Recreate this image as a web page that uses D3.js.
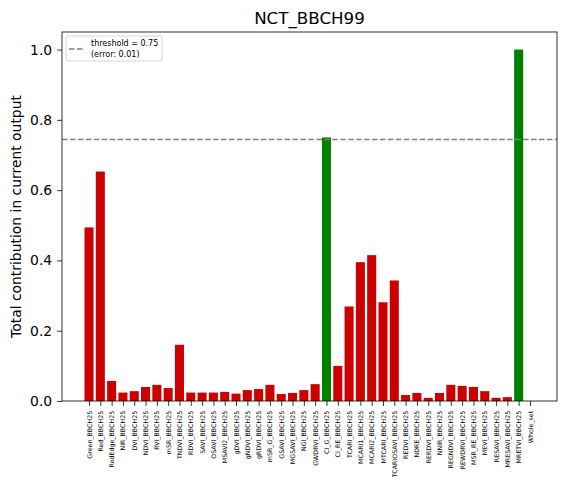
<!DOCTYPE html>
<html><head><meta charset="utf-8">
<script src="https://cdn.jsdelivr.net/npm/d3@7"></script>
<style>body{margin:0;background:#fff}svg{display:block;font-family:"DejaVu Sans",sans-serif}</style>
</head><body>
<svg id="c" width="570" height="494"></svg>
<script>
const categories = ["Green_BBCH25","Red_BBCH25","RedEdge_BBCH25","NIR_BBCH25","DVI_BBCH25","NDVI_BBCH25","RVI_BBCH25","mSR_BBCH25","TNDVI_BBCH25","RDVI_BBCH25","SAVI_BBCH25","OSAVI_BBCH25","MSAVI2_BBCH25","gDVI_BBCH25","gNDVI_BBCH25","gRDVI_BBCH25","mSR_G_BBCH25","GSAVI_BBCH25","MGSAVI_BBCH25","NGI_BBCH25","GWDRVI_BBCH25","CI_G_BBCH25","CI_RE_BBCH25","TCARI_BBCH25","MCARI1_BBCH25","MCARI2_BBCH25","MTCARI_BBCH25","TCARIOSAVI_BBCH25","REDVI_BBCH25","NDRE_BBCH25","RERDVI_BBCH25","NNIR_BBCH25","REGNDVI_BBCH25","REWDRVI_BBCH25","MSR_RE_BBCH25","MEVI_BBCH25","RESAVI_BBCH25","MRESAVI_BBCH25","MRETVI_BBCH25","Whole_set"];
const values = [0.494,0.653,0.057,0.024,0.028,0.040,0.046,0.037,0.160,0.024,0.024,0.024,0.026,0.021,0.031,0.034,0.046,0.020,0.023,0.031,0.048,0.750,0.100,0.269,0.395,0.415,0.281,0.343,0.017,0.023,0.009,0.023,0.046,0.043,0.040,0.028,0.009,0.011,1.000,0];
const highlighted = ["CI_G_BBCH25","MRETVI_BBCH25"];
const thresholdLine = 0.744;
const legendLines = ["threshold = 0.75","(error: 0.01)"];
const yTicks = [0.0,0.2,0.4,0.6,0.8,1.0];

const svg = d3.select("#c");
const L=62, R=557, T=32, B=401;
const n = categories.length;
const pad = (n - 1 + 0.8) * 0.05;
const x = d3.scaleLinear().domain([-0.4 - pad, n - 1 + 0.4 + pad]).range([L, R]);
const y = d3.scaleLinear().domain([0, 1.05]).range([B, T]);
const bw = x(0.8) - x(0);

svg.append("g").selectAll("rect").data(values).join("rect")
  .attr("x", (d,i) => x(i - 0.4))
  .attr("y", d => y(d))
  .attr("width", bw)
  .attr("height", d => y(0) - y(d))
  .attr("fill", (d,i) => highlighted.includes(categories[i]) ? "#008000" : "#cc0000");

svg.append("line").attr("x1", L).attr("x2", R).attr("y1", y(thresholdLine)).attr("y2", y(thresholdLine))
  .attr("stroke", "#808080").attr("stroke-width", 1.5).attr("stroke-dasharray", "5.55,2.4");

// axes
const yAxis = d3.axisLeft(y).tickValues(yTicks).tickFormat(d3.format(".1f")).tickSize(4.9).tickPadding(4.9);
const gy = svg.append("g").attr("transform", `translate(${L},0)`).call(yAxis);
gy.select(".domain").remove();
gy.selectAll("text").attr("font-size", "13.9px").attr("fill", "#000").attr("font-family", "DejaVu Sans");
gy.selectAll("line").attr("stroke", "#000").attr("stroke-width", 0.8);

const xAxis = d3.axisBottom(x).tickValues(d3.range(n)).tickFormat(i => categories[i]).tickSize(4.9).tickPadding(4.9);
const gx = svg.append("g").attr("transform", `translate(0,${B})`).call(xAxis);
gx.select(".domain").remove();
gx.selectAll("line").attr("stroke", "#000").attr("stroke-width", 0.8);
gx.selectAll("text").attr("font-size", "6.3px").attr("fill", "#000").attr("font-family", "DejaVu Sans")
  .attr("text-anchor", "end").attr("dy", "0.32em")
  .attr("transform", function(){ return `translate(0,${4.9+4.9}) rotate(-90)`; })
  .attr("x", 0).attr("y", 0);

svg.append("rect").attr("x", L).attr("y", T).attr("width", R-L).attr("height", B-T)
  .attr("fill", "none").attr("stroke", "#000").attr("stroke-width", 0.8);

svg.append("text").attr("x", (L+R)/2).attr("y", 24).attr("text-anchor", "middle")
  .attr("font-size", "16.7px").text("NCT_BBCH99");
svg.append("text").attr("transform", `translate(21,${(T+B)/2}) rotate(-90)`).attr("text-anchor", "middle")
  .attr("font-size", "13.9px").text("Total contribution in current output");

// legend
const lg = svg.append("g");
lg.append("rect").attr("x", 66).attr("y", 36).attr("width", 96).attr("height", 25).attr("rx", 2)
  .attr("fill", "#fff").attr("fill-opacity", 0.8).attr("stroke", "#cccccc").attr("stroke-width", 0.8);
lg.append("line").attr("x1", 69).attr("x2", 85).attr("y1", 49).attr("y2", 49)
  .attr("stroke", "#808080").attr("stroke-width", 1.5).attr("stroke-dasharray", "5.55,2.4");
lg.selectAll("text").data(legendLines).join("text")
  .attr("x", 91).attr("y", (d,i) => 46 + i*10.5).attr("font-size", "8px").attr("fill", "#000").text(d => d);
</script>
</body></html>
